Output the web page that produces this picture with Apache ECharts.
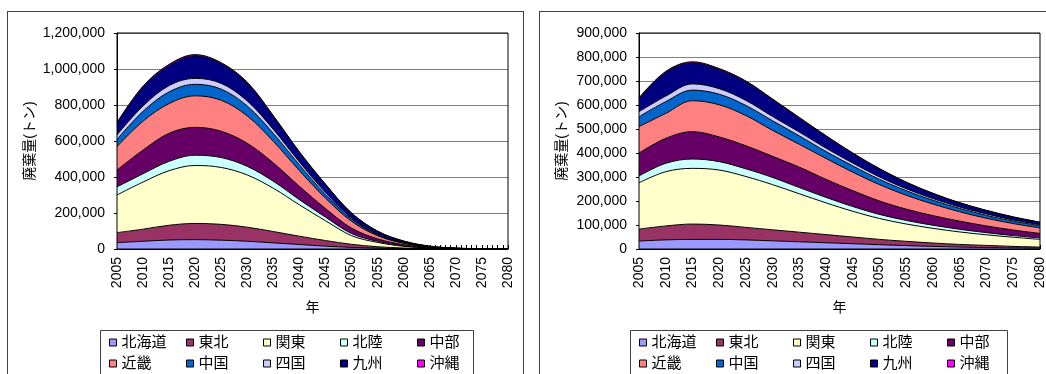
<!DOCTYPE html>
<html>
<head>
<meta charset="utf-8">
<script src="https://cdn.jsdelivr.net/npm/echarts@6/dist/echarts.min.js"></script>
<style>
  html, body { margin: 0; padding: 0; background: #fff; width: 1046px; height: 374px; overflow: hidden; }
  .panel { position: absolute; border: 1px solid #404040; background: #fff; }
  #left { left: 7px; top: 11px; width: 515px; height: 378px; }
  #right { left: 539px; top: 11px; width: 518px; height: 378px; }
  .chart { width: 100%; height: 100%; }
</style>
</head>
<body>
<div class="panel" id="left"><div class="chart" id="chartLeft"></div></div>
<div class="panel" id="right"><div class="chart" id="chartRight"></div></div>
<script>
// Years with values (every five years)
const years = [2005, 2010, 2015, 2020, 2025, 2030, 2035, 2040, 2045, 2050, 2055, 2060, 2065, 2070, 2075, 2080];
// Axis categories: one per year, labelled every five years
const firstYear = 2005, lastYear = 2080;
const axisYears = [];
for (let y = firstYear; y <= lastYear; y++) axisYears.push(String(y));

// Region names (stack order, bottom to top) and fill colours
const regions = ['北海道', '東北', '関東', '北陸', '中部', '近畿', '中国', '四国', '九州', '沖縄'];
const regionColors = ['#9999FF', '#993366', '#FFFFCC', '#CCFFFF', '#660066', '#FF8080', '#0066CC', '#CCCCFF', '#000080', '#FF00FF'];

// Left chart: waste amount per region (tonnes)
const leftHokkaido = [35000, 43000, 50000, 52000, 49000, 43000, 34000, 25000, 16000, 9000, 4500, 2000, 700, 200, 50, 10];
const leftTohoku   = [56000, 67000, 82000, 90000, 88000, 78000, 63000, 46000, 31000, 17000, 8000, 3500, 1200, 400, 100, 20];
const leftKanto    = [209000, 262000, 303000, 322000, 316000, 290000, 240000, 174000, 110000, 48000, 24000, 9500, 3000, 900, 200, 50];
const leftHokuriku = [45000, 46000, 52000, 57000, 55000, 48000, 39000, 29000, 20000, 12000, 6000, 2700, 1000, 300, 80, 20];
const leftChubu    = [94000, 132000, 156000, 155000, 146000, 128000, 102000, 74000, 48000, 30000, 14000, 6500, 2300, 700, 200, 50];
const leftKinki    = [130000, 160000, 165000, 175000, 172000, 152000, 120000, 87000, 57000, 38000, 17000, 7500, 2700, 900, 250, 60];
const leftChugoku  = [40000, 55000, 65000, 64000, 62000, 55000, 44000, 32000, 21000, 12000, 6000, 2800, 1000, 300, 80, 20];
const leftShikoku  = [25000, 30000, 35000, 33000, 32000, 28000, 22000, 16000, 11000, 6000, 3000, 1400, 500, 150, 40, 10];
const leftKyushu   = [65000, 105000, 112000, 126000, 110000, 100000, 73000, 54000, 44000, 27000, 16000, 8000, 3300, 1100, 200, 50];
const leftOkinawa  = [4000, 5000, 6000, 6000, 5000, 4000, 3000, 3000, 2000, 1000, 500, 300, 100, 50, 10, 0];

// Right chart: waste amount per region (tonnes)
const rightHokkaido = [33000, 38000, 40000, 40000, 38000, 34000, 30000, 26000, 22000, 18000, 14000, 11000, 8000, 6000, 4500, 3000];
const rightTohoku   = [50000, 58000, 64000, 60000, 52000, 46000, 40000, 34000, 28000, 22000, 18000, 14000, 11000, 9000, 6500, 5000];
const rightKanto    = [193000, 226000, 232000, 229000, 212000, 188000, 160000, 132000, 107000, 87000, 72000, 61000, 52000, 44000, 38000, 32000];
const rightHokuriku = [28000, 35000, 39000, 35000, 32000, 30000, 26000, 23000, 20000, 17000, 15000, 13000, 11000, 9000, 7000, 6000];
const rightChubu    = [96000, 104000, 114000, 103000, 96000, 88000, 85000, 75000, 66000, 56000, 47000, 40000, 34000, 28000, 23000, 19000];
const rightKinki    = [110000, 104000, 129000, 134000, 126000, 108000, 95000, 87000, 77000, 68000, 58000, 48000, 39000, 32000, 27000, 23000];
const rightChugoku  = [41000, 49000, 44000, 44000, 42000, 40000, 35000, 29000, 26000, 22000, 19000, 16000, 14000, 12000, 10000, 9000];
const rightShikoku  = [21000, 23000, 26000, 23000, 21000, 18000, 16000, 14000, 12000, 10000, 8000, 7000, 6000, 6000, 5000, 4000];
const rightKyushu   = [55000, 100000, 88000, 80000, 78000, 70000, 58000, 50000, 40000, 33000, 26000, 21000, 17000, 14000, 12000, 10000];
const rightOkinawa  = [3000, 3000, 4000, 4000, 3000, 3000, 3000, 2000, 2000, 2000, 2000, 1000, 1000, 1000, 1000, 1000];

// Left-chart y-axis ticks
const leftYMax = 1200000, leftYStep = 200000;
// Right-chart y-axis ticks
const rightYMax = 900000, rightYStep = 100000;

const FONT = '"Liberation Sans", "Noto Sans CJK JP", sans-serif';

function buildOption(values, yMax, yStep, g, lg) {
  const series = regions.map((name, i) => ({
    name: name,
    type: 'line',
    stack: 'total',
    smooth: 0.35,
    symbol: 'none',
    animation: false,
    emphasis: { disabled: true },
    lineStyle: { color: '#000', width: 1 },
    itemStyle: { color: regionColors[i] },
    areaStyle: { color: regionColors[i], opacity: 1 },
    data: years.map((y, k) => [String(y), values[i][k]])
  }));
  return {
    animation: false,
    textStyle: { fontFamily: FONT },
    grid: { left: g.left, top: g.top, width: g.width, height: g.height },
    xAxis: {
      type: 'category', data: axisYears, boundaryGap: false,
      axisLine: { show: true, lineStyle: { color: '#000', width: 1 } },
      axisTick: { show: true, inside: true, length: 4, interval: 0, lineStyle: { color: '#000' } },
      splitLine: { show: false },
      axisLabel: { rotate: 90, margin: 8, fontSize: 14, color: '#000', fontFamily: FONT, interval: 4 },
      name: '年', nameLocation: 'middle', nameGap: 52,
      nameTextStyle: { fontSize: 14, color: '#000', fontFamily: FONT }
    },
    yAxis: {
      type: 'value', min: 0, max: yMax, interval: yStep,
      axisLine: { show: true, lineStyle: { color: '#000', width: 1 } },
      axisTick: { show: true, length: 3, lineStyle: { color: '#000' } },
      splitLine: { show: true, lineStyle: { color: '#808080', width: 1 } },
      axisLabel: { fontSize: 14, margin: 12, color: '#000', fontFamily: FONT,
                   formatter: v => v.toLocaleString('en-US') },
      name: '廃棄量(トン)', nameLocation: 'middle', nameRotate: 90, nameGap: g.nameGap,
      nameMoveOverlap: false,
      nameTextStyle: { fontSize: 14, color: '#000', fontFamily: FONT }
    },
    legend: {
      left: lg.itemLeft, top: lg.itemTop, width: 380, padding: 0,
      itemWidth: 7, itemHeight: 7, itemGap: 6, icon: 'rect',
      itemStyle: { borderColor: '#000', borderWidth: 1 },
      textStyle: { fontSize: 15, lineHeight: 15, width: 58.5, color: '#000', fontFamily: FONT },
      data: regions
    },
    graphic: [
      { type: 'rect', z: 100, silent: true,
        shape: { x: g.left, y: g.top, width: g.width, height: g.height },
        style: { fill: 'none', stroke: '#000', lineWidth: 1 } },
      { type: 'rect', z: 1, silent: true,
        shape: { x: lg.boxLeft, y: lg.boxTop, width: lg.boxWidth, height: 80 },
        style: { fill: 'none', stroke: '#404040', lineWidth: 1 } }
    ],
    series: series
  };
}

const leftValues = [leftHokkaido, leftTohoku, leftKanto, leftHokuriku, leftChubu, leftKinki, leftChugoku, leftShikoku, leftKyushu, leftOkinawa];
const rightValues = [rightHokkaido, rightTohoku, rightKanto, rightHokuriku, rightChubu, rightKinki, rightChugoku, rightShikoku, rightKyushu, rightOkinawa];

const chartL = echarts.init(document.getElementById('chartLeft'), null, { renderer: 'canvas' });
chartL.setOption(buildOption(leftValues, leftYMax, leftYStep,
  { left: 109, top: 21, width: 391, height: 216, nameGap: 80 },
  { itemLeft: 101, itemTop: 323, boxLeft: 92.5, boxTop: 318.5, boxWidth: 373 }));

const chartR = echarts.init(document.getElementById('chartRight'), null, { renderer: 'canvas' });
chartR.setOption(buildOption(rightValues, rightYMax, rightYStep,
  { left: 99, top: 21, width: 401, height: 216, nameGap: 70 },
  { itemLeft: 99, itemTop: 323, boxLeft: 90.5, boxTop: 318.5, boxWidth: 377 }));
</script>
</body>
</html>
